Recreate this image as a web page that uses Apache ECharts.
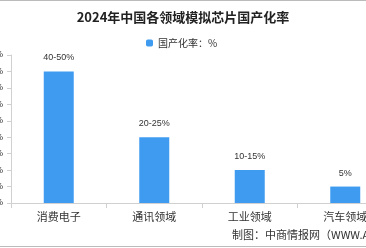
<!DOCTYPE html>
<html>
<head>
<meta charset="utf-8">
<script src="https://cdn.jsdelivr.net/npm/echarts@6/dist/echarts.min.js"></script>
<style>
  html, body { margin: 0; padding: 0; background: #fff; }
  #main { width: 366px; height: 248px; }
</style>
</head>
<body>
<div id="main"></div>
<script>
var categories = ["消费电子", "通讯领域", "工业领域", "汽车领域"];
var rateValues = [40, 20, 10, 5];
var rateLabels = ["40-50%", "20-25%", "10-15%", "5%"];

var myChart = echarts.init(document.getElementById("main"));
var option = {
  backgroundColor: "#fff",
  animation: false,
  title: {
    text: "2024年中国各领域模拟芯片国产化率",
    left: "center",
    top: 6,
    textStyle: { fontSize: 13, fontWeight: "bold", color: "#222", fontFamily: "Noto Sans CJK SC" }
  },
  legend: {
    top: 33,
    left: 141,
    itemWidth: 7,
    itemHeight: 7,
    itemGap: 4,
    textStyle: { fontSize: 10, color: "#333", fontFamily: "Noto Sans CJK SC" },
    data: ["国产化率：%"]
  },
  grid: { left: 11, right: -27, top: 55, bottom: 45, containLabel: false, outerBoundsMode: "none" },
  xAxis: {
    type: "category",
    data: categories,
    axisLine: { lineStyle: { color: "#d0d0d0" } },
    axisTick: { show: true, alignWithLabel: false, lineStyle: { color: "#d0d0d0" } },
    axisLabel: { fontSize: 11, color: "#333", margin: 8, fontFamily: "Noto Sans CJK SC" }
  },
  yAxis: {
    type: "value",
    min: 0,
    max: 45,
    interval: 5,
    splitLine: { show: false },
    axisLine: { show: true, lineStyle: { color: "#d0d0d0" } },
    axisTick: { show: true, length: 4, lineStyle: { color: "#d0d0d0" } },
    axisLabel: { formatter: "{value}%", fontSize: 9, color: "#333", margin: 8 }
  },
  series: [
    {
      name: "国产化率：%",
      type: "bar",
      barWidth: 30,
      data: rateValues,
      itemStyle: { color: "#3f9bf0" },
      label: {
        show: true,
        position: "top",
        distance: 9,
        fontSize: 9,
        color: "#333",
        formatter: function (p) {
          return rateLabels[p.dataIndex];
        }
      }
    }
  ],
  graphic: [
    { type: "line", shape: { x1: 0, y1: 0.5, x2: 366, y2: 0.5 }, style: { stroke: "#bbb", lineWidth: 1 } },
    { type: "line", shape: { x1: 0, y1: 246.5, x2: 366, y2: 246.5 }, style: { stroke: "#bbb", lineWidth: 1 } },
    {
      type: "text",
      left: 232,
      top: 229,
      style: { text: "制图：中商情报网（WWW.ASKCI.COM）", fontSize: 11, fill: "#333", fontFamily: "Noto Sans CJK SC" }
    }
  ]
};
myChart.setOption(option);
</script>
</body>
</html>
